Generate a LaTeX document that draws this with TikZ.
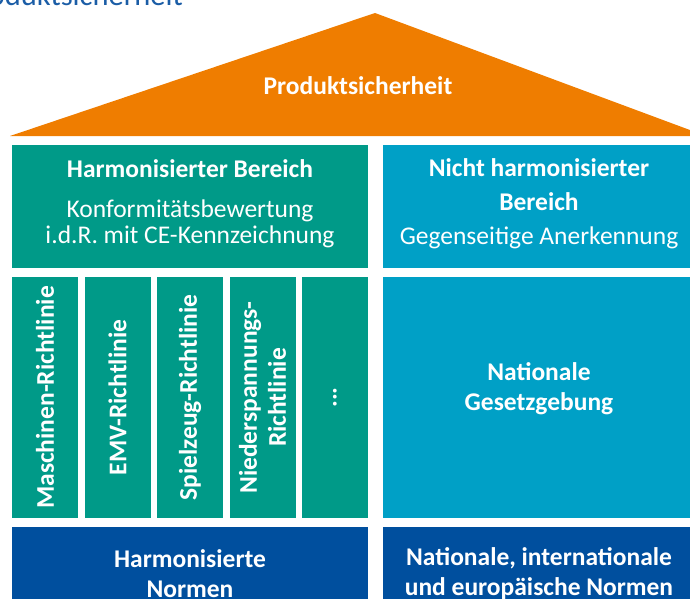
\documentclass[tikz,border=0pt]{standalone}
\usepackage{fontspec}
\setmainfont{Carlito}
\usepackage{tikz}
\definecolor{dachorange}{HTML}{EF7D00}
\definecolor{harmgruen}{HTML}{009A88}
\definecolor{natblau}{HTML}{00A0C6}
\definecolor{normblau}{HTML}{004F9E}
\definecolor{titelblau}{HTML}{1B5DA6}

\begin{document}
\begin{tikzpicture}[x=1pt, y=-1pt,
    feld/.style={rectangle, inner sep=0pt},
    schrift/.style={inner sep=0pt, text=white, align=center},
    saeule/.style={feld, fill=harmgruen, minimum width=66pt, minimum height=241pt},
    saeulentext/.style={schrift, rotate=90, font=\fontsize{25.5}{29}\selectfont\bfseries},
    fettschrift/.style={schrift, font=\fontsize{25.5}{30}\selectfont\bfseries}]
    \clip (0,0) rectangle (690,599);

    \node [anchor=base east, inner sep=0pt, text=titelblau, font=\fontsize{30.5}{34}\selectfont] (titel) at (183,6) {Produktsicherheit};

    \fill [dachorange] (10,136) -- (375,13) -- (706,136) -- cycle;
    \node [fettschrift] (dach) at (358,86) {Produktsicherheit};

    \node [feld, fill=harmgruen, minimum width=356pt, minimum height=123pt] (hb) at (190,206.5) {};
    \node [schrift, font=\fontsize{25.5}{26}\selectfont] (hbtext) at ([yshift=3pt]hb.center)
        {\bfseries Harmonisierter Bereich\\[13.5pt]
         Konformitätsbewertung\\ i.d.R. mit CE-Kennzeichnung};
    \node [feld, fill=natblau, minimum width=312pt, minimum height=123pt] (nhb) at (539,206.5) {};
    \node [schrift, font=\fontsize{25.5}{34}\selectfont] (nhbtext) at ([yshift=3pt]nhb.center)
        {\bfseries Nicht harmonisierter\\ \bfseries Bereich\\[0pt]
         Gegenseitige Anerkennung};

    \node [saeule] (masch) at (45,397.5) {};
    \node [saeule] (emv) at (117.5,397.5) {};
    \node [saeule] (spiel) at (190,397.5) {};
    \node [saeule] (nsp) at (262.5,397.5) {};
    \node [saeule] (weitere) at (335,397.5) {};
    \node [saeulentext] (maschtext) at (masch.center) {Maschinen-Richtlinie};
    \node [saeulentext] (emvtext) at (emv.center) {EMV-Richtlinie};
    \node [saeulentext] (spieltext) at (spiel.center) {Spielzeug-Richtlinie};
    \node [saeulentext] (nsptext) at (nsp.center) {Niederspannungs-\\Richtlinie};
    \node [saeulentext] (weiteretext) at (weitere.center) {...};

    \node [feld, fill=natblau, minimum width=312pt, minimum height=241pt] (ng) at (539,397.5) {};
    \node [fettschrift] (ngtext) at ([yshift=9pt]ng.center) {Nationale\\Gesetzgebung};

    \node [feld, fill=normblau, minimum width=356pt, minimum height=93pt] (hn) at (190,573.5) {};
    \node [fettschrift] (hntext) at (hn.center) {Harmonisierte\\Normen};
    \node [feld, fill=normblau, minimum width=312pt, minimum height=93pt] (nn) at (539,573.5) {};
    \node [fettschrift] (nntext) at (nn.center) {Nationale, internationale\\und europäische Normen};
\end{tikzpicture}
\end{document}
